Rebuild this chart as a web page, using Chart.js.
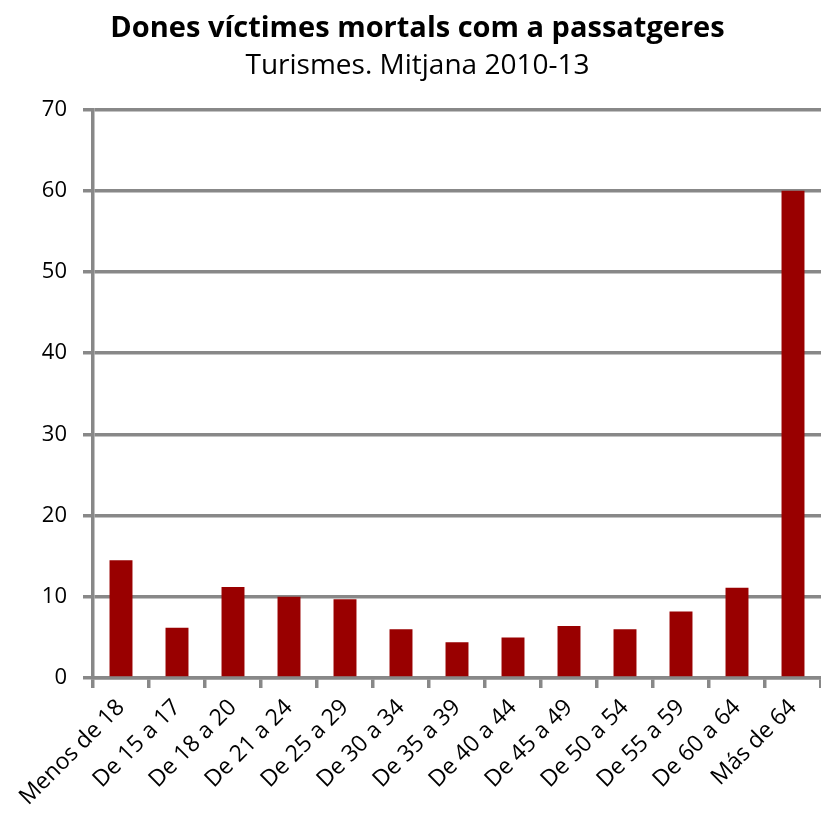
<!DOCTYPE html>
<html>
<head>
<meta charset="utf-8">
<script src="https://cdn.jsdelivr.net/npm/chart.js@4"></script>
<style>
  html, body { margin: 0; padding: 0; background: #fff; }
  #wrap { width: 821px; height: 818px; }
</style>
</head>
<body>
<div id="wrap"><canvas id="grafic" width="821" height="818"></canvas></div>
<script>
// categories (trams d'edat)
var edats = ["Menos de 18", "De 15 a 17", "De 18 a 20", "De 21 a 24", "De 25 a 29",
  "De 30 a 34", "De 35 a 39", "De 40 a 44", "De 45 a 49", "De 50 a 54",
  "De 55 a 59", "De 60 a 64", "Más de 64"];
// valors llegits del gràfic
var victimes = [14.5, 6.2, 11.2, 10.0, 9.7, 6.0, 4.4, 5.0, 6.4, 6.0, 8.2, 11.1, 60.0];
var titol = "Dones víctimes mortals com a passatgeres";
var subtitol = "Turismes. Mitjana 2010-13";

var gris = "#888888";
var lletra = "'Open Sans'";
var ctx = document.getElementById("grafic").getContext("2d");

new Chart(ctx, {
  type: "bar",
  data: {
    labels: edats,
    datasets: [{
      data: victimes,
      backgroundColor: "#990000",
      borderWidth: 0,
      barPercentage: 0.41,
      categoryPercentage: 1.0
    }]
  },
  options: {
    responsive: false,
    animation: false,
    layout: { padding: { top: 0, left: 14, right: 0, bottom: 0 } },
    plugins: {
      legend: { display: false },
      tooltip: { enabled: false },
      title: {
        display: true,
        text: titol,
        color: "#000",
        font: { family: lletra, size: 29, weight: "bold" },
        padding: { top: 11, bottom: 2 }
      },
      subtitle: {
        display: true,
        text: subtitol,
        color: "#000",
        font: { family: lletra, size: 28, weight: "normal" },
        padding: { top: 1, bottom: 27 }
      }
    },
    scales: {
      x: {
        afterFit: function(scale) { scale.height = 140; },
        grid: {
          offset: true,
          drawOnChartArea: false,
          color: gris,
          lineWidth: 3.5,
          tickLength: 10
        },
        border: { color: gris, width: 3.5 },
        ticks: {
          minRotation: 45,
          maxRotation: 45,
          color: "#000",
          font: { family: lletra, size: 23 },
          padding: 6
        }
      },
      y: {
        min: 0,
        max: 70,
        afterFit: function(scale) { scale.width = 79; },
        ticks: {
          stepSize: 10,
          color: "#000",
          font: { family: lletra, size: 22 },
          padding: 16
        },
        grid: {
          color: gris,
          lineWidth: 3.5,
          tickLength: 10
        },
        border: { color: gris, width: 3.5 }
      }
    }
  }
});
</script>
</body>
</html>
